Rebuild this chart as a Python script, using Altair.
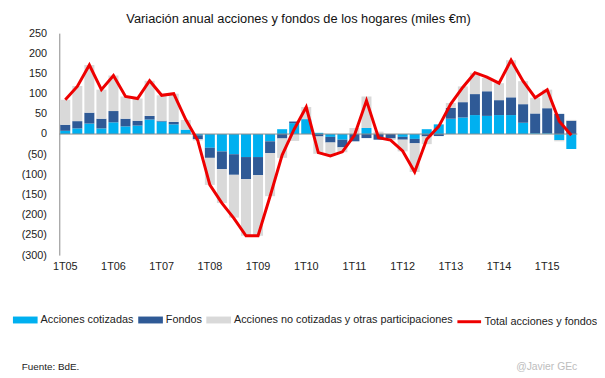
import altair as alt
import pandas as pd

# Quarters 1T05 .. 3T15
quarters = [f"{q}T{y:02d}" for y in range(5, 16) for q in range(1, 5)][:43]

cotizadas = [8, 14, 26, 14, 29, 19, 21, 36, 31, 24, 11, -3, -34, -43, -50, -57, -57, -18, 12, 27, 37, 3,
             -7, -14, 0, 15, 0, 0, -7, -12, 12, 24, 38, 41, 47, 45, 47, 47, 28, 2, 2, -15, -37]
fondos = [15, 18, 27, 24, 28, 19, 12, 9, 2, 6, 0, -10, -25, -44, -51, -55, -45, -29, -11, 4, 0, -6,
          -14, -19, -18, -10, -14, -11, -7, -11, -6, -5, 27, 38, 52, 61, 37, 44, 46, 49, 62, 50, 33]
no_cotizadas = [62, 87, 118, 72, 88, 55, 55, 87, 63, 70, 24, -3, -67, -84, -106, -140, -150, -107, -48, -17, 30, -43,
                -33, -12, 15, 78, 6, -4, -29, -71, -19, 0, 12, 39, 53, 33, 42, 92, 57, 39, 46, -3, 2]
total = [85, 118, 171, 110, 145, 93, 88, 132, 96, 100, 36, -16, -126, -171, -209, -252, -252, -154, -52, 12, 67, -46,
         -54, -44, -3, 83, -9, -15, -42, -94, -13, 19, 75, 116, 152, 141, 126, 183, 131, 90, 110, 32, -3]

series_names = ["Acciones cotizadas", "Fondos", "Acciones no cotizadas y otras participaciones"]
series_colors = ["#00B0F0", "#2F5A96", "#D9D9D9"]
line_name = "Total acciones y fondos"
year_labels = [f"1T{y:02d}" for y in range(5, 16)]
y_ticks = list(range(-300, 251, 50))

rows = []
for i, q in enumerate(quarters):
    for k, (name, vals) in enumerate(zip(series_names, [cotizadas, fondos, no_cotizadas])):
        rows.append({"q": q, "serie": name, "v": vals[i], "ord": k})
bars_df = pd.DataFrame(rows)
line_df = pd.DataFrame({"q": quarters, "v": total, "serie": [line_name] * len(quarters)})

FONT = "Liberation Sans"

xaxis = alt.Axis(values=year_labels, labelAngle=0, domain=False, ticks=False,
                 labelPadding=6, labelFontSize=11, labelColor="#222222", labelFont=FONT)
xscale = alt.Scale(paddingInner=0.17, paddingOuter=0.08)
yaxis = alt.Axis(values=y_ticks, grid=False, ticks=False, tickCount=12,
                 domainColor="#888888", labelPadding=13, labelFontSize=11,
                 labelOverlap=False, labelSeparation=0,
                 labelColor="#222222", labelFont=FONT,
                 labelExpr="datum.value < 0 ? '(' + format(-datum.value, 'd') + ')' : format(datum.value, 'd')")
yscale = alt.Scale(domain=[-300, 250], nice=False, zero=True)

bars = alt.Chart(bars_df).mark_bar().encode(
    x=alt.X("q:N", sort=quarters, title=None, scale=xscale, axis=xaxis),
    y=alt.Y("v:Q", stack="zero", scale=yscale, title=None, axis=yaxis),
    color=alt.Color("serie:N", sort=series_names,
                    scale=alt.Scale(domain=series_names, range=series_colors),
                    legend=alt.Legend(title=None, orient="none", direction="horizontal", columns=3,
                                      legendX=-47, legendY=278, columnPadding=4,
                                      symbolType="M-1,-0.28L1,-0.28L1,0.28L-1,0.28Z", symbolSize=625,
                                      symbolStrokeWidth=0, labelOffset=3, labelLimit=400,
                                      labelFontSize=11, labelFont=FONT, labelColor="#222222")),
    order=alt.Order("ord:Q", sort="ascending"),
)

zero = alt.Chart(pd.DataFrame({"z": [0]})).mark_rule(color="#8C8C8C", strokeWidth=1).encode(
    y=alt.Y("z:Q", scale=yscale, title=None, axis=yaxis))

line = alt.Chart(line_df).mark_line(strokeWidth=3).encode(
    x=alt.X("q:N", sort=quarters, title=None, scale=xscale, axis=xaxis),
    y=alt.Y("v:Q", scale=yscale, title=None, axis=yaxis),
    stroke=alt.Stroke("serie:N", scale=alt.Scale(domain=[line_name], range=["#EE0000"]),
                      legend=alt.Legend(title=None, orient="none", direction="horizontal",
                                        legendX=402, legendY=279, symbolType="stroke", symbolSize=576,
                                        symbolStrokeWidth=3, labelOffset=2, labelLimit=400,
                                        labelFontSize=11, labelFont=FONT, labelColor="#222222")),
)

foot_df = pd.DataFrame({"t": ["Fuente: BdE."]})
fuente = alt.Chart(foot_df).mark_text(align="left", baseline="middle", fontSize=10, font=FONT,
                                      color="#222222").encode(
    text="t:N", x=alt.value(-38), y=alt.value(338))
firma_df = pd.DataFrame({"t": ["@Javier GEc"]})
firma = alt.Chart(firma_df).mark_text(align="right", baseline="middle", fontSize=10.5, font=FONT,
                                      color="#BDBDBD").encode(
    text="t:N", x=alt.value(525), y=alt.value(338))

chart = alt.layer(bars, zero, line, fuente, firma).resolve_scale(color="independent").properties(
    width=525, height=225,
    autosize=alt.AutoSizeParams(type="none"),
    padding={"left": 52, "top": 23, "right": 20, "bottom": 118},
    title=alt.TitleParams("Variación anual acciones y fondos de los hogares (miles €m)",
                          fontSize=13, fontWeight="normal", font=FONT, color="#111111",
                          anchor="middle", dx=-20, dy=7, offset=8),
).configure_view(stroke=None)

chart.save("out.html", embed_options={"renderer": "svg", "actions": False})
